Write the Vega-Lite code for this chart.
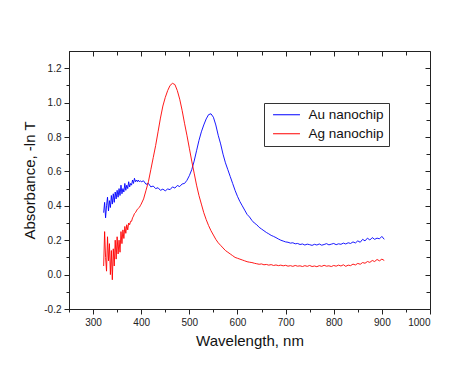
{
"$schema": "https://vega.github.io/schema/vega-lite/v6.json",
"width": 361, "height": 258,
"autosize": {"type": "none"},
"padding": {"left": 69, "top": 51, "right": 44, "bottom": 57},
"background": "white",
"config": {
  "view": {"stroke": "#222", "strokeWidth": 1},
  "axis": {"grid": false, "domainColor": "#222", "tickColor": "#222", "labelColor": "#222", "labelFont": "Liberation Sans", "titleFont": "Liberation Sans", "labelFontSize": 10, "titleFontSize": 15, "titleFontWeight": "normal", "titleColor": "#111"}
},
"data": {"values": [
{"w":322,"a":0.36,"s":"Au nanochip"},{"w":324,"a":0.42,"s":"Au nanochip"},{"w":326,"a":0.33,"s":"Au nanochip"},{"w":328,"a":0.40,"s":"Au nanochip"},{"w":330,"a":0.45,"s":"Au nanochip"},{"w":332,"a":0.37,"s":"Au nanochip"},{"w":334,"a":0.43,"s":"Au nanochip"},{"w":336,"a":0.39,"s":"Au nanochip"},{"w":338,"a":0.46,"s":"Au nanochip"},{"w":340,"a":0.41,"s":"Au nanochip"},{"w":342,"a":0.47,"s":"Au nanochip"},{"w":344,"a":0.42,"s":"Au nanochip"},{"w":346,"a":0.48,"s":"Au nanochip"},{"w":348,"a":0.44,"s":"Au nanochip"},{"w":350,"a":0.49,"s":"Au nanochip"},{"w":352,"a":0.45,"s":"Au nanochip"},{"w":354,"a":0.50,"s":"Au nanochip"},{"w":356,"a":0.46,"s":"Au nanochip"},{"w":358,"a":0.52,"s":"Au nanochip"},{"w":360,"a":0.47,"s":"Au nanochip"},{"w":362,"a":0.50,"s":"Au nanochip"},{"w":364,"a":0.48,"s":"Au nanochip"},{"w":366,"a":0.53,"s":"Au nanochip"},{"w":368,"a":0.49,"s":"Au nanochip"},{"w":370,"a":0.52,"s":"Au nanochip"},{"w":372,"a":0.50,"s":"Au nanochip"},{"w":374,"a":0.54,"s":"Au nanochip"},{"w":376,"a":0.51,"s":"Au nanochip"},{"w":378,"a":0.53,"s":"Au nanochip"},{"w":380,"a":0.52,"s":"Au nanochip"},{"w":382,"a":0.55,"s":"Au nanochip"},{"w":384,"a":0.53,"s":"Au nanochip"},{"w":386,"a":0.56,"s":"Au nanochip"},{"w":388,"a":0.54,"s":"Au nanochip"},{"w":390,"a":0.55,"s":"Au nanochip"},{"w":392,"a":0.54,"s":"Au nanochip"},{"w":394,"a":0.55,"s":"Au nanochip"},{"w":396,"a":0.54,"s":"Au nanochip"},{"w":398,"a":0.545,"s":"Au nanochip"},{"w":400,"a":0.54,"s":"Au nanochip"},
{"w":405,"a":0.545,"s":"Au nanochip"},{"w":410,"a":0.525,"s":"Au nanochip"},{"w":415,"a":0.53,"s":"Au nanochip"},{"w":420,"a":0.51,"s":"Au nanochip"},{"w":425,"a":0.515,"s":"Au nanochip"},{"w":430,"a":0.50,"s":"Au nanochip"},{"w":435,"a":0.505,"s":"Au nanochip"},{"w":440,"a":0.49,"s":"Au nanochip"},{"w":445,"a":0.497,"s":"Au nanochip"},{"w":450,"a":0.487,"s":"Au nanochip"},{"w":455,"a":0.498,"s":"Au nanochip"},{"w":460,"a":0.494,"s":"Au nanochip"},{"w":465,"a":0.51,"s":"Au nanochip"},{"w":470,"a":0.503,"s":"Au nanochip"},{"w":475,"a":0.518,"s":"Au nanochip"},{"w":480,"a":0.512,"s":"Au nanochip"},{"w":485,"a":0.527,"s":"Au nanochip"},{"w":490,"a":0.53,"s":"Au nanochip"},{"w":495,"a":0.548,"s":"Au nanochip"},{"w":500,"a":0.575,"s":"Au nanochip"},{"w":505,"a":0.61,"s":"Au nanochip"},{"w":510,"a":0.66,"s":"Au nanochip"},{"w":515,"a":0.72,"s":"Au nanochip"},{"w":520,"a":0.78,"s":"Au nanochip"},{"w":525,"a":0.83,"s":"Au nanochip"},{"w":530,"a":0.87,"s":"Au nanochip"},{"w":535,"a":0.905,"s":"Au nanochip"},{"w":540,"a":0.93,"s":"Au nanochip"},{"w":545,"a":0.935,"s":"Au nanochip"},{"w":550,"a":0.915,"s":"Au nanochip"},{"w":555,"a":0.87,"s":"Au nanochip"},{"w":560,"a":0.81,"s":"Au nanochip"},{"w":565,"a":0.76,"s":"Au nanochip"},{"w":570,"a":0.70,"s":"Au nanochip"},{"w":575,"a":0.65,"s":"Au nanochip"},{"w":580,"a":0.61,"s":"Au nanochip"},{"w":585,"a":0.57,"s":"Au nanochip"},{"w":590,"a":0.53,"s":"Au nanochip"},{"w":595,"a":0.49,"s":"Au nanochip"},{"w":600,"a":0.455,"s":"Au nanochip"},{"w":605,"a":0.425,"s":"Au nanochip"},{"w":610,"a":0.40,"s":"Au nanochip"},{"w":615,"a":0.375,"s":"Au nanochip"},{"w":620,"a":0.35,"s":"Au nanochip"},{"w":625,"a":0.335,"s":"Au nanochip"},{"w":630,"a":0.315,"s":"Au nanochip"},{"w":635,"a":0.30,"s":"Au nanochip"},{"w":640,"a":0.29,"s":"Au nanochip"},{"w":645,"a":0.275,"s":"Au nanochip"},{"w":650,"a":0.265,"s":"Au nanochip"},{"w":655,"a":0.255,"s":"Au nanochip"},{"w":660,"a":0.245,"s":"Au nanochip"},{"w":665,"a":0.237,"s":"Au nanochip"},{"w":670,"a":0.228,"s":"Au nanochip"},{"w":675,"a":0.222,"s":"Au nanochip"},{"w":680,"a":0.215,"s":"Au nanochip"},{"w":685,"a":0.207,"s":"Au nanochip"},{"w":690,"a":0.20,"s":"Au nanochip"},{"w":695,"a":0.195,"s":"Au nanochip"},{"w":700,"a":0.19,"s":"Au nanochip"},
{"w":705,"a":0.188,"s":"Au nanochip"},{"w":710,"a":0.183,"s":"Au nanochip"},{"w":715,"a":0.185,"s":"Au nanochip"},{"w":720,"a":0.179,"s":"Au nanochip"},{"w":725,"a":0.181,"s":"Au nanochip"},{"w":730,"a":0.175,"s":"Au nanochip"},{"w":735,"a":0.178,"s":"Au nanochip"},{"w":740,"a":0.172,"s":"Au nanochip"},{"w":745,"a":0.177,"s":"Au nanochip"},{"w":750,"a":0.174,"s":"Au nanochip"},{"w":755,"a":0.170,"s":"Au nanochip"},{"w":760,"a":0.176,"s":"Au nanochip"},{"w":765,"a":0.172,"s":"Au nanochip"},{"w":770,"a":0.178,"s":"Au nanochip"},{"w":775,"a":0.171,"s":"Au nanochip"},{"w":780,"a":0.175,"s":"Au nanochip"},{"w":785,"a":0.180,"s":"Au nanochip"},{"w":790,"a":0.173,"s":"Au nanochip"},{"w":795,"a":0.177,"s":"Au nanochip"},{"w":800,"a":0.181,"s":"Au nanochip"},{"w":805,"a":0.174,"s":"Au nanochip"},{"w":810,"a":0.179,"s":"Au nanochip"},{"w":815,"a":0.176,"s":"Au nanochip"},{"w":820,"a":0.183,"s":"Au nanochip"},{"w":825,"a":0.178,"s":"Au nanochip"},{"w":830,"a":0.185,"s":"Au nanochip"},{"w":835,"a":0.181,"s":"Au nanochip"},{"w":840,"a":0.190,"s":"Au nanochip"},{"w":845,"a":0.184,"s":"Au nanochip"},{"w":850,"a":0.196,"s":"Au nanochip"},{"w":855,"a":0.188,"s":"Au nanochip"},{"w":860,"a":0.205,"s":"Au nanochip"},{"w":865,"a":0.196,"s":"Au nanochip"},{"w":870,"a":0.212,"s":"Au nanochip"},{"w":875,"a":0.201,"s":"Au nanochip"},{"w":880,"a":0.215,"s":"Au nanochip"},{"w":885,"a":0.205,"s":"Au nanochip"},{"w":890,"a":0.212,"s":"Au nanochip"},{"w":895,"a":0.208,"s":"Au nanochip"},{"w":900,"a":0.222,"s":"Au nanochip"},{"w":905,"a":0.205,"s":"Au nanochip"},
{"w":322,"a":0.05,"s":"Ag nanochip"},{"w":324,"a":0.25,"s":"Ag nanochip"},{"w":326,"a":0.10,"s":"Ag nanochip"},{"w":328,"a":0.02,"s":"Ag nanochip"},{"w":330,"a":0.22,"s":"Ag nanochip"},{"w":332,"a":0.08,"s":"Ag nanochip"},{"w":334,"a":0.18,"s":"Ag nanochip"},{"w":336,"a":0.00,"s":"Ag nanochip"},{"w":338,"a":0.14,"s":"Ag nanochip"},{"w":340,"a":-0.03,"s":"Ag nanochip"},{"w":342,"a":0.15,"s":"Ag nanochip"},{"w":344,"a":0.05,"s":"Ag nanochip"},{"w":346,"a":0.20,"s":"Ag nanochip"},{"w":348,"a":0.09,"s":"Ag nanochip"},{"w":350,"a":0.22,"s":"Ag nanochip"},{"w":352,"a":0.12,"s":"Ag nanochip"},{"w":354,"a":0.20,"s":"Ag nanochip"},{"w":356,"a":0.13,"s":"Ag nanochip"},{"w":358,"a":0.25,"s":"Ag nanochip"},{"w":360,"a":0.18,"s":"Ag nanochip"},{"w":362,"a":0.26,"s":"Ag nanochip"},{"w":364,"a":0.21,"s":"Ag nanochip"},{"w":366,"a":0.28,"s":"Ag nanochip"},{"w":368,"a":0.24,"s":"Ag nanochip"},{"w":370,"a":0.29,"s":"Ag nanochip"},{"w":372,"a":0.26,"s":"Ag nanochip"},{"w":374,"a":0.30,"s":"Ag nanochip"},{"w":376,"a":0.29,"s":"Ag nanochip"},{"w":378,"a":0.31,"s":"Ag nanochip"},{"w":380,"a":0.31,"s":"Ag nanochip"},{"w":382,"a":0.33,"s":"Ag nanochip"},{"w":384,"a":0.34,"s":"Ag nanochip"},{"w":386,"a":0.355,"s":"Ag nanochip"},{"w":388,"a":0.36,"s":"Ag nanochip"},{"w":390,"a":0.37,"s":"Ag nanochip"},{"w":392,"a":0.38,"s":"Ag nanochip"},{"w":394,"a":0.385,"s":"Ag nanochip"},{"w":396,"a":0.39,"s":"Ag nanochip"},{"w":398,"a":0.40,"s":"Ag nanochip"},{"w":400,"a":0.41,"s":"Ag nanochip"},
{"w":405,"a":0.44,"s":"Ag nanochip"},{"w":410,"a":0.49,"s":"Ag nanochip"},{"w":415,"a":0.54,"s":"Ag nanochip"},{"w":420,"a":0.61,"s":"Ag nanochip"},{"w":425,"a":0.68,"s":"Ag nanochip"},{"w":430,"a":0.75,"s":"Ag nanochip"},{"w":435,"a":0.83,"s":"Ag nanochip"},{"w":440,"a":0.91,"s":"Ag nanochip"},{"w":445,"a":0.98,"s":"Ag nanochip"},{"w":450,"a":1.03,"s":"Ag nanochip"},{"w":455,"a":1.07,"s":"Ag nanochip"},{"w":460,"a":1.10,"s":"Ag nanochip"},{"w":465,"a":1.112,"s":"Ag nanochip"},{"w":470,"a":1.105,"s":"Ag nanochip"},{"w":475,"a":1.07,"s":"Ag nanochip"},{"w":480,"a":1.02,"s":"Ag nanochip"},{"w":485,"a":0.955,"s":"Ag nanochip"},{"w":490,"a":0.88,"s":"Ag nanochip"},{"w":495,"a":0.81,"s":"Ag nanochip"},{"w":500,"a":0.735,"s":"Ag nanochip"},{"w":505,"a":0.66,"s":"Ag nanochip"},{"w":510,"a":0.59,"s":"Ag nanochip"},{"w":515,"a":0.52,"s":"Ag nanochip"},{"w":520,"a":0.46,"s":"Ag nanochip"},{"w":525,"a":0.41,"s":"Ag nanochip"},{"w":530,"a":0.36,"s":"Ag nanochip"},{"w":535,"a":0.32,"s":"Ag nanochip"},{"w":540,"a":0.285,"s":"Ag nanochip"},{"w":545,"a":0.255,"s":"Ag nanochip"},{"w":550,"a":0.23,"s":"Ag nanochip"},{"w":555,"a":0.205,"s":"Ag nanochip"},{"w":560,"a":0.185,"s":"Ag nanochip"},{"w":565,"a":0.17,"s":"Ag nanochip"},{"w":570,"a":0.155,"s":"Ag nanochip"},{"w":575,"a":0.14,"s":"Ag nanochip"},{"w":580,"a":0.13,"s":"Ag nanochip"},{"w":585,"a":0.12,"s":"Ag nanochip"},{"w":590,"a":0.11,"s":"Ag nanochip"},{"w":595,"a":0.10,"s":"Ag nanochip"},{"w":600,"a":0.095,"s":"Ag nanochip"},{"w":605,"a":0.09,"s":"Ag nanochip"},{"w":610,"a":0.085,"s":"Ag nanochip"},{"w":615,"a":0.08,"s":"Ag nanochip"},{"w":620,"a":0.075,"s":"Ag nanochip"},{"w":625,"a":0.072,"s":"Ag nanochip"},{"w":630,"a":0.07,"s":"Ag nanochip"},
{"w":635,"a":0.066,"s":"Ag nanochip"},{"w":640,"a":0.063,"s":"Ag nanochip"},{"w":645,"a":0.060,"s":"Ag nanochip"},{"w":650,"a":0.062,"s":"Ag nanochip"},{"w":655,"a":0.057,"s":"Ag nanochip"},{"w":660,"a":0.059,"s":"Ag nanochip"},{"w":665,"a":0.055,"s":"Ag nanochip"},{"w":670,"a":0.058,"s":"Ag nanochip"},{"w":675,"a":0.053,"s":"Ag nanochip"},{"w":680,"a":0.056,"s":"Ag nanochip"},{"w":685,"a":0.052,"s":"Ag nanochip"},{"w":690,"a":0.055,"s":"Ag nanochip"},{"w":695,"a":0.051,"s":"Ag nanochip"},{"w":700,"a":0.054,"s":"Ag nanochip"},{"w":705,"a":0.049,"s":"Ag nanochip"},{"w":710,"a":0.052,"s":"Ag nanochip"},{"w":715,"a":0.048,"s":"Ag nanochip"},{"w":720,"a":0.053,"s":"Ag nanochip"},{"w":725,"a":0.049,"s":"Ag nanochip"},{"w":730,"a":0.051,"s":"Ag nanochip"},{"w":735,"a":0.047,"s":"Ag nanochip"},{"w":740,"a":0.052,"s":"Ag nanochip"},{"w":745,"a":0.048,"s":"Ag nanochip"},{"w":750,"a":0.053,"s":"Ag nanochip"},{"w":755,"a":0.047,"s":"Ag nanochip"},{"w":760,"a":0.050,"s":"Ag nanochip"},{"w":765,"a":0.046,"s":"Ag nanochip"},{"w":770,"a":0.052,"s":"Ag nanochip"},{"w":775,"a":0.048,"s":"Ag nanochip"},{"w":780,"a":0.054,"s":"Ag nanochip"},{"w":785,"a":0.049,"s":"Ag nanochip"},{"w":790,"a":0.051,"s":"Ag nanochip"},{"w":795,"a":0.047,"s":"Ag nanochip"},{"w":800,"a":0.053,"s":"Ag nanochip"},{"w":805,"a":0.049,"s":"Ag nanochip"},{"w":810,"a":0.055,"s":"Ag nanochip"},{"w":815,"a":0.050,"s":"Ag nanochip"},{"w":820,"a":0.057,"s":"Ag nanochip"},{"w":825,"a":0.048,"s":"Ag nanochip"},{"w":830,"a":0.055,"s":"Ag nanochip"},{"w":835,"a":0.052,"s":"Ag nanochip"},{"w":840,"a":0.061,"s":"Ag nanochip"},{"w":845,"a":0.056,"s":"Ag nanochip"},{"w":850,"a":0.065,"s":"Ag nanochip"},{"w":855,"a":0.060,"s":"Ag nanochip"},{"w":860,"a":0.070,"s":"Ag nanochip"},{"w":865,"a":0.066,"s":"Ag nanochip"},{"w":870,"a":0.076,"s":"Ag nanochip"},{"w":875,"a":0.071,"s":"Ag nanochip"},{"w":880,"a":0.082,"s":"Ag nanochip"},{"w":885,"a":0.076,"s":"Ag nanochip"},{"w":890,"a":0.088,"s":"Ag nanochip"},{"w":895,"a":0.080,"s":"Ag nanochip"},{"w":900,"a":0.090,"s":"Ag nanochip"},{"w":905,"a":0.082,"s":"Ag nanochip"}
]},
"resolve": {"axis": {"x": "independent", "y": "independent"}},
"layer": [
  {
    "mark": {"type": "line", "strokeWidth": 0.9, "clip": true},
    "encoding": {
      "x": {"field": "w", "type": "quantitative", "scale": {"domain": [250, 1000], "nice": false, "zero": false},
        "axis": {"orient": "bottom", "values": [300,400,500,600,700,800,900,1000], "format": "d", "tickSize": 5, "labelPadding": 3, "title": "Wavelength, nm", "titlePadding": 6}},
      "y": {"field": "a", "type": "quantitative", "scale": {"domain": [-0.2, 1.3], "nice": false, "zero": false},
        "axis": {"orient": "left", "values": [-0.2,0,0.2,0.4,0.6,0.8,1.0,1.2], "tickSize": 5, "labelPadding": 3, "labelExpr": "replace(format(datum.value, '.1f'), '\u2212', '-')", "title": "Absorbance, -ln T", "titlePadding": 6}},
      "color": {"field": "s", "type": "nominal", "sort": ["Au nanochip", "Ag nanochip"],
        "scale": {"domain": ["Au nanochip", "Ag nanochip"], "range": ["#0000ff", "#ff0000"]},
        "legend": {"orient": "none", "legendX": 195, "legendY": 52, "title": null, "symbolType": "M-1,0H9", "symbolSize": 29, "symbolStrokeWidth": 1, "labelFont": "Liberation Sans", "labelFontSize": 13.5, "labelColor": "#111", "labelOffset": 26, "padding": 5, "rowPadding": 4, "strokeColor": "#333", "fillColor": "white"}}
    }
  },
  {
    "mark": {"type": "line", "opacity": 0},
    "encoding": {
      "x": {"field": "w", "type": "quantitative", "scale": {"domain": [250, 1000], "nice": false, "zero": false},
        "axis": {"orient": "bottom", "values": [250,350,450,550,650,750,850,950], "tickSize": 3, "labels": false, "domain": false, "title": null}},
      "y": {"field": "a", "type": "quantitative", "scale": {"domain": [-0.2, 1.3], "nice": false, "zero": false},
        "axis": {"orient": "left", "values": [-0.1,0.1,0.3,0.5,0.7,0.9,1.1], "tickSize": 3, "labels": false, "domain": false, "title": null}},
      "detail": {"field": "s"}
    }
  },
  {
    "mark": {"type": "line", "opacity": 0},
    "encoding": {
      "x": {"field": "w", "type": "quantitative", "scale": {"domain": [250, 1000], "nice": false, "zero": false},
        "axis": {"orient": "top", "values": [300,400,500,600,700,800,900,1000], "tickSize": -5, "labels": false, "domain": false, "title": null}},
      "y": {"field": "a", "type": "quantitative", "scale": {"domain": [-0.2, 1.3], "nice": false, "zero": false},
        "axis": {"orient": "right", "values": [-0.2,0,0.2,0.4,0.6,0.8,1.0,1.2], "tickSize": -5, "labels": false, "domain": false, "title": null}},
      "detail": {"field": "s"}
    }
  },
  {
    "mark": {"type": "line", "opacity": 0},
    "encoding": {
      "x": {"field": "w", "type": "quantitative", "scale": {"domain": [250, 1000], "nice": false, "zero": false},
        "axis": {"orient": "top", "values": [250,350,450,550,650,750,850,950], "tickSize": -4, "labels": false, "domain": false, "title": null}},
      "y": {"field": "a", "type": "quantitative", "scale": {"domain": [-0.2, 1.3], "nice": false, "zero": false},
        "axis": {"orient": "right", "values": [-0.1,0.1,0.3,0.5,0.7,0.9,1.1], "tickSize": -4, "labels": false, "domain": false, "title": null}},
      "detail": {"field": "s"}
    }
  }
]
}
